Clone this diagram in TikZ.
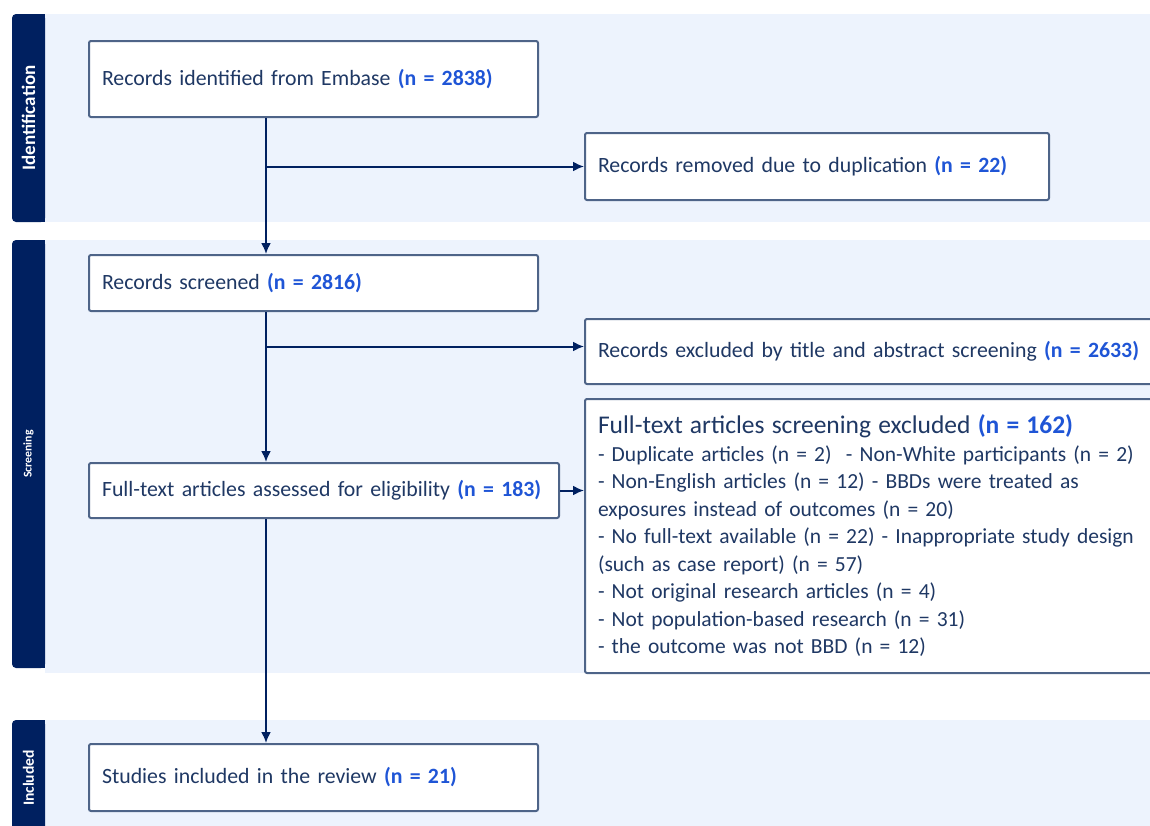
\documentclass[tikz,border=0pt]{standalone}
\usepackage{fontspec}
\setmainfont{Carlito}
\usetikzlibrary{arrows.meta, positioning}

\definecolor{navy}{HTML}{002060}
\definecolor{bandblue}{HTML}{EDF3FD}
\definecolor{boxline}{HTML}{4E6488}
\definecolor{ink}{HTML}{1F3864}
\definecolor{nblue}{HTML}{1F55D6}
\newcommand{\nval}[1]{\textcolor{nblue}{\bfseries #1}}

\tikzset{
  band/.style={fill=bandblue},
  stagebar/.style={fill=navy, rounded corners=4pt},
  stagelabel/.style={rotate=90, text=white, font=\bfseries},
  box/.style={draw=boxline, line width=2pt, fill=white, rounded corners=2pt,
    anchor=north west, inner xsep=13pt, align=left, text=ink,
    font=\fontsize{21.8}{26}\selectfont},
  flow/.style={draw=navy, line width=2pt, -{Latex[length=11pt,width=10pt]}}
}

\begin{document}
\begin{tikzpicture}[x=1pt, y=-1pt]
\useasboundingbox (0,0) rectangle (1150,825);

% stage bands
\fill[band] (45,14) rectangle (1150,222);
\fill[band] (45,240) rectangle (1150,673);
\fill[band] (45,720) rectangle (1150,830);
\fill[stagebar] (12,14) rectangle (45,222);
\fill[navy] (38,14) rectangle (45,222);
\fill[stagebar] (12,240) rectangle (45,668);
\fill[navy] (38,240) rectangle (45,668);
\fill[stagebar] (12,720) rectangle (45,840);
\fill[navy] (38,720) rectangle (45,840);
\node[stagelabel, font=\fontsize{19}{22}\selectfont\bfseries] (lident) at (28.5,118) {Identification};
\node[stagelabel, font=\fontsize{11.8}{14}\selectfont\bfseries] (lscreen) at (28.5,454) {Screening};
\node[stagelabel, font=\fontsize{15.6}{18}\selectfont\bfseries] (lincl) at (28.5,778) {Included};

% boxes
\node[box, text width=423pt, minimum height=76pt] (embase) at (88,40)
  {Records identified from Embase \nval{(n = 2838)}};
\node[box, text width=438pt, minimum height=67pt] (dup) at (584,132)
  {Records removed due to duplication \nval{(n = 22)}};
\node[box, text width=423pt, minimum height=56pt] (screened) at (88,254)
  {Records screened \nval{(n = 2816)}};
\node[box, text width=564pt, minimum height=65pt] (titleexcl) at (584,318)
  {Records excluded by title and abstract screening \nval{(n = 2633)}};
\node[box, text width=444pt, minimum height=55pt] (fulltext) at (88,462)
  {Full-text articles assessed for eligibility \nval{(n = 183)}};
\node[box, text width=564pt, minimum height=274pt,
  font=\fontsize{21.5}{27.5}\selectfont] (ftexcl) at (584,398)
  {{\fontsize{25.5}{31}\selectfont Full-text articles screening excluded \nval{(n = 162)}}\\
   - Duplicate articles (n = 2)\ \ - Non-White participants (n = 2)\\
   - Non-English articles (n = 12) - BBDs were treated as\\
   exposures instead of outcomes (n = 20)\\
   - No full-text available (n = 22) - Inappropriate study design\\
   (such as case report) (n = 57)\\
   - Not original research articles (n = 4)\\
   - Not population-based research (n = 31)\\
   - the outcome was not BBD (n = 12)};
\node[box, text width=423pt, minimum height=67pt] (included) at (88,743)
  {Studies included in the review \nval{(n = 21)}};

% connectors
\coordinate (trunk) at (266,0);
\draw[flow] (embase.south -| trunk) -- (screened.north -| trunk);
\draw[flow] (trunk |- dup.west) -- (dup.west);
\draw[flow] (screened.south -| trunk) -- (fulltext.north -| trunk);
\draw[flow] ([yshift=5pt]trunk |- titleexcl.west) -- ([yshift=5pt]titleexcl.west);
\draw[flow] (fulltext.east) -- (fulltext.east -| ftexcl.west);
\draw[flow] (fulltext.south -| trunk) -- (included.north -| trunk);
\end{tikzpicture}
\end{document}
